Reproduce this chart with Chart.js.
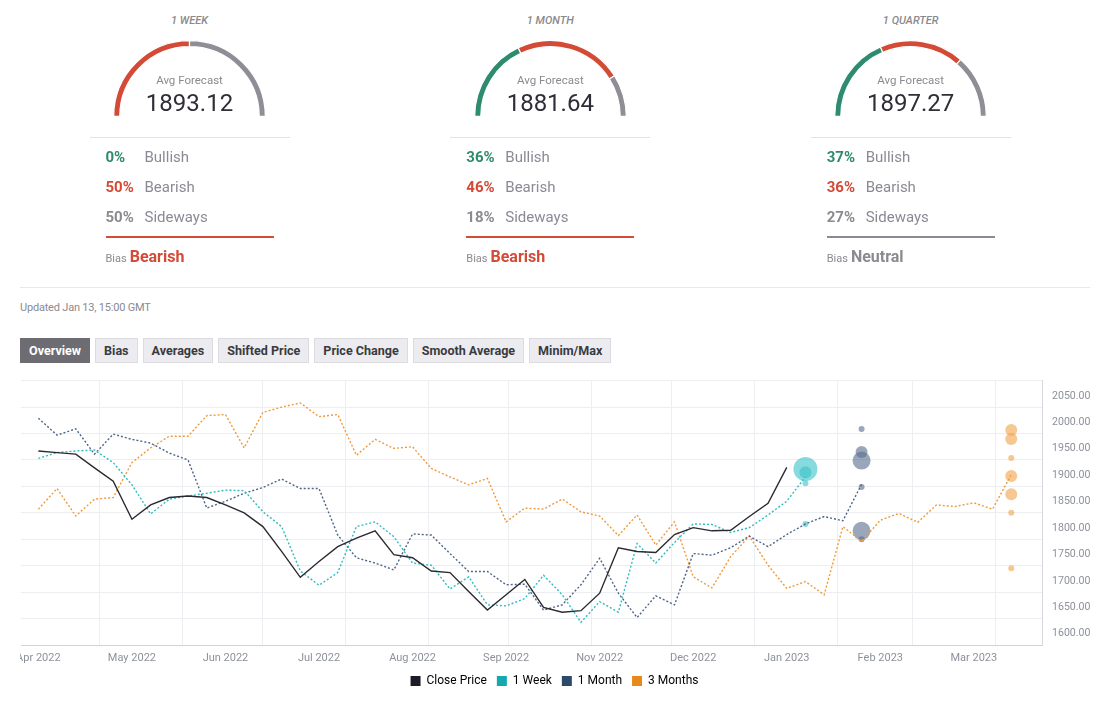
<!DOCTYPE html>
<html><head><meta charset="utf-8">
<script src="https://cdn.jsdelivr.net/npm/chart.js@4.4.0/dist/chart.umd.min.js"></script>
<style>
body{margin:0;background:#fff;font-family:Roboto,"Noto Sans",sans-serif;width:1105px;height:701px;position:relative;overflow:hidden}
.col{position:absolute;top:0;width:360px;height:280px}
.ttl{position:absolute;top:14px;left:0;width:360px;text-align:center;font-size:11px;line-height:14px;font-style:italic;font-weight:500;color:#8a8a8e}
.gauge{position:absolute;top:40px;left:103.5px}
.avgl{position:absolute;top:73px;left:0;width:360px;text-align:center;font-size:11.5px;line-height:14px;color:#8a8a90}
.avgv{position:absolute;top:89px;left:0;width:360px;text-align:center;font-size:24px;line-height:28px;color:#2e2e36}
.div{position:absolute;top:137px;left:80px;width:200px;height:1px;background:#e2e2e4}
.row{position:absolute;left:96px;font-size:15px;line-height:18px;color:#8a8a96;white-space:nowrap}
.row b{display:inline-block;width:39px;font-weight:700}
.bline{position:absolute;top:236px;left:96px;width:168px;height:2px}
.bias{position:absolute;top:247px;left:96px;white-space:nowrap;color:#8a8a90}
.bias span{font-size:11px}
.bias b{font-size:16px;font-weight:700;margin-left:3px}
.hr{position:absolute;top:287px;left:20px;width:1070px;height:1px;background:#e8e8ea}
.upd{position:absolute;top:301px;left:20px;font-size:11px;line-height:14px;color:#8a8a90;letter-spacing:-0.2px}
.tabs{position:absolute;top:338px;left:20px;display:flex;gap:5px}
.tab{height:23px;line-height:23px;padding:0 8px;font-size:12.55px;font-weight:700;color:#3a3a40;background:#ececf0;border:1px solid #dcdce0}
.tab.on{background:#6c6c72;color:#fff;border-color:#6c6c72}
#mainWrap{position:absolute;left:4px;top:372px;width:1101px;height:329px}
#edge{position:absolute;left:0;top:648px;width:20px;height:22px;background:#fff}
</style></head>
<body>
<div id="gauges"></div>
<div class="hr"></div>
<div class="upd">Updated Jan 13, 15:00 GMT</div>
<div class="tabs" id="tabs"></div>
<div id="mainWrap"><canvas id="main" width="1101" height="329"></canvas></div>
<div id="edge"></div>
<script>
// ---------- Sentiment gauges ----------
const gaugeTitles = ['1 WEEK', '1 MONTH', '1 QUARTER'];
const avgForecast = ['1893.12', '1881.64', '1897.27'];
const bullishPct = [0, 36, 37];
const bearishPct = [50, 46, 36];
const sidewaysPct = [50, 18, 27];
const biasLabels = ['Bearish', 'Bearish', 'Neutral'];

// ---------- Tabs ----------
const tabNames = ['Overview', 'Bias', 'Averages', 'Shifted Price', 'Price Change', 'Smooth Average', 'Minim/Max'];

// ---------- Main chart data (weekly, Fridays from Apr 8, 2022) ----------
const closePrice = [1942,1939,1936,1910,1885,1813,1840,1854,1857,1854,1840,1825,1799,1752,1703,1733,1761,1777,1791,1746,1740,1715,1712,1676,1641,1670,1699,1646,1637,1640,1673,1759,1752,1750,1784,1797,1791,1792,1818,1843,1911];
const week1 = [1928,1939,1942,1944,1920,1878,1823,1851,1857,1862,1868,1867,1827,1799,1715,1688,1712,1799,1808,1780,1730,1726,1681,1704,1651,1649,1663,1707,1670,1618,1657,1637,1767,1730,1769,1804,1803,1788,1797,1821,1847,1893.12];
const month1 = [2004,1972,1984,1936,1974,1964,1957,1938,1925,1834,1847,1862,1873,1889,1871,1871,1783,1740,1730,1717,1785,1783,1748,1714,1714,1689,1690,1641,1651,1689,1739,1673,1627,1668,1651,1748,1745,1759,1781,1761,1784,1804,1818,1810,1879];
const months3 = [1832,1871,1819,1851,1854,1920,1948,1970,1970,2009,2011,1948,2015,2025,2033,2007,2011,1934,1964,1947,1950,1909,1893,1878,1890,1808,1834,1832,1851,1827,1819,1782,1821,1764,1808,1704,1683,1742,1781,1726,1682,1695,1670,1799,1771,1811,1824,1807,1840,1837,1844,1832,1897.27];

// individual forecasts at each horizon's target week, with number of forecasters
const week1Forecasts = [1908, 1901.6, 1881, 1804];
const week1Counts = [4, 2, 1, 1];
const month1Forecasts = [1924, 1791, 1940, 1983.6, 1874, 1775];
const month1Counts = [3, 3, 2, 1, 1, 1];
const months3Forecasts = [1981.7, 1964.7, 1894.7, 1860, 1929, 1825, 1720];
const months3Counts = [2, 2, 2, 2, 1, 1, 1];
const targetWeek = [41, 44, 52];

// axis ticks (days after Apr 8, 2022)
const tickLabels = ['Apr 2022','May 2022','Jun 2022','Jul 2022','Aug 2022','Sep 2022','Nov 2022','Dec 2022','Jan 2023','Feb 2023','Mar 2023'];
const tickDays = [0,35,70,105,140,175,210,245,280,315,350];
const monthStartDays = [23,54,84,115,146,176,207,237,268,299,327,358];
const yLabelValues = [1600,1650,1700,1750,1800,1850,1900,1950,2000,2050];
const yGridValues = [1575,1625,1675,1725,1775,1825,1875,1925,1975,2025,2075];

const legendNames = ['Close Price', '1 Week', '1 Month', '3 Months'];

// ---------- build page ----------
const GREEN = '#2e8b6f', RED = '#d34a37', GRAY = '#8e8e96';
const centers = [189.5, 550.3, 910.7];
const gWrap = document.getElementById('gauges');
gaugeTitles.forEach((t, i) => {
  const c = document.createElement('div');
  c.className = 'col';
  c.style.left = (centers[i] - 180) + 'px';
  const biasColor = biasLabels[i] === 'Bearish' ? RED : (biasLabels[i] === 'Bullish' ? GREEN : '#8a8a90');
  c.innerHTML =
    `<div class="ttl">${t}</div>` +
    `<canvas class="gauge" width="153" height="77"></canvas>` +
    `<div class="avgl">Avg Forecast</div>` +
    `<div class="avgv">${avgForecast[i]}</div>` +
    `<div class="div"></div>` +
    `<div class="row" style="top:148px"><b style="color:${GREEN}">${bullishPct[i]}%</b>Bullish</div>` +
    `<div class="row" style="top:178px"><b style="color:${RED}">${bearishPct[i]}%</b>Bearish</div>` +
    `<div class="row" style="top:208px"><b style="color:#8a8a90">${sidewaysPct[i]}%</b>Sideways</div>` +
    `<div class="bline" style="background:${biasColor}"></div>` +
    `<div class="bias"><span>Bias</span><b style="color:${biasColor}">${biasLabels[i]}</b></div>`;
  gWrap.appendChild(c);
  new Chart(c.querySelector('canvas'), {
    type: 'doughnut',
    data: { labels: ['Bullish','Bearish','Sideways'],
      datasets: [{ data: [bullishPct[i], bearishPct[i], sidewaysPct[i]],
        backgroundColor: [GREEN, RED, GRAY], borderColor: '#fff', borderWidth: 1.2 }] },
    options: { responsive: false, animation: false, events: [], devicePixelRatio: 1,
      rotation: -90, circumference: 180, cutout: '92%',
      plugins: { legend: { display: false }, tooltip: { enabled: false } } }
  });
});

const tabs = document.getElementById('tabs');
tabNames.forEach((n, i) => {
  const d = document.createElement('div');
  d.className = 'tab' + (i === 0 ? ' on' : '');
  d.textContent = n;
  tabs.appendChild(d);
});

// ---------- main chart ----------
Chart.defaults.font.family = 'Roboto, "Noto Sans", sans-serif';
const toPts = arr => arr.map((v, i) => ({ x: i * 7, y: v }));
const toBubbles = (vals, counts, wk) => vals.map((v, i) => ({ x: wk * 7, y: v, r: counts[i] * 3 }));
const lineDs = (label, arr, color, dash) => ({
  type: 'line', label, data: toPts(arr), borderColor: color, borderWidth: 1.4,
  borderDash: dash, pointRadius: 0, tension: 0, fill: false
});
const legendColors = ['#1c1c26', '#14a9ae', '#2e4a6b', '#e8891c'];

new Chart(document.getElementById('main'), {
  type: 'line',
  data: { datasets: [
    lineDs('Close Price', closePrice, '#2a2a30', []),
    lineDs('1 Week', week1, '#2fbcc1', [2, 2]),
    lineDs('1 Month', month1, '#4d6587', [2, 2]),
    lineDs('3 Months', months3, '#f09a3c', [2, 2]),
    { type: 'bubble', label: 'w', data: toBubbles(week1Forecasts, week1Counts, targetWeek[0]), backgroundColor: 'rgba(62,196,201,0.62)', borderWidth: 0 },
    { type: 'bubble', label: 'm', data: toBubbles(month1Forecasts, month1Counts, targetWeek[1]), backgroundColor: 'rgba(92,112,142,0.62)', borderWidth: 0 },
    { type: 'bubble', label: 'q', data: toBubbles(months3Forecasts, months3Counts, targetWeek[2]), backgroundColor: 'rgba(240,164,78,0.62)', borderWidth: 0 }
  ]},
  options: {
    responsive: false, animation: false, events: [], devicePixelRatio: 1,
    layout: { autoPadding: false, padding: { left: 0, top: 8.7, right: 0, bottom: 4 } },
    scales: {
      x: {
        type: 'linear', min: -6.5, max: 375.5,
        afterBuildTicks: s => {
          const all = [-6.5, ...tickDays, ...monthStartDays, 375.5].sort((a, b) => a - b);
          s.ticks = all.map(v => ({ value: v }));
        },
        afterFit: s => { s.height = 20; s.paddingLeft = 0; s.paddingRight = 0; },
        grid: { color: c => (c.tick && monthStartDays.includes(c.tick.value)) ? '#edeef2' : 'rgba(0,0,0,0)', drawTicks: false },
        border: { color: '#cfd2d8' },
        ticks: { autoSkip: false, maxRotation: 0, padding: 7, color: '#8d919b', font: { size: 11 },
          callback: v => { const k = tickDays.indexOf(v); return k >= 0 ? tickLabels[k] : ''; } }
      },
      y: {
        position: 'right', min: 1575, max: 2075,
        afterBuildTicks: s => {
          const all = [...yGridValues, ...yLabelValues].sort((a, b) => a - b);
          s.ticks = all.map(v => ({ value: v }));
        },
        afterFit: s => { s.width = 63; s.paddingTop = 0; s.paddingBottom = 0; },
        grid: { color: c => (c.tick && yGridValues.includes(c.tick.value)) ? '#edeef2' : 'rgba(0,0,0,0)', drawTicks: false },
        border: { color: '#d5d8dd' },
        ticks: { autoSkip: false, padding: 10, labelOffset: 2, color: '#8d919b', font: { size: 10.6 },
          callback: v => yLabelValues.includes(v) ? v.toFixed(2) : '' }
      },
      spacer: {
        type: 'linear', position: 'left', min: 0, max: 1,
        grid: { display: false }, border: { display: false }, ticks: { display: false },
        afterFit: s => { s.width = 17; s.paddingTop = 0; s.paddingBottom = 0; }
      }
    },
    plugins: {
      tooltip: { enabled: false },
      legend: { position: 'bottom',
        labels: { boxWidth: 10, boxHeight: 10, padding: 10, color: '#8d919b', font: { size: 12 },
          generateLabels: () => legendNames.map((t, i) => ({ text: t, fillStyle: legendColors[i], strokeStyle: legendColors[i], lineWidth: 0, hidden: false, datasetIndex: i })) } }
    }
  }
});
</script>
</body></html>
